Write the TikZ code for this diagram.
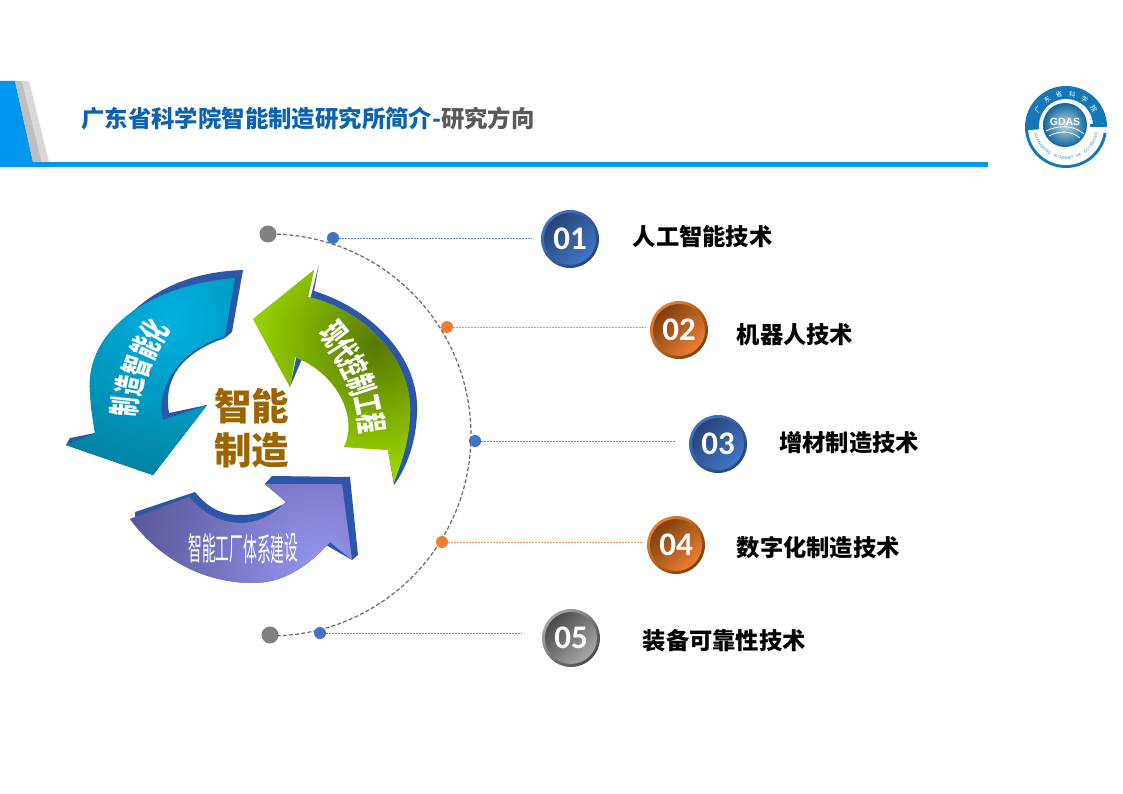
\documentclass[tikz,border=0pt]{standalone}
\usepackage{fontspec}
\newfontfamily\cjk{Noto Sans CJK SC}
\newfontfamily\digitfont{Carlito}
\newfontfamily\logofont{Liberation Sans}
\definecolor{hblue}{HTML}{0096EE}
\definecolor{tblue}{HTML}{0B62B0}
\definecolor{tgray}{HTML}{595959}
\definecolor{gold}{HTML}{9C6500}
\definecolor{extr}{HTML}{2C57A8}
\definecolor{ringb}{HTML}{1478B8}
\definecolor{dotblue}{HTML}{4472C4}
\definecolor{dotorange}{HTML}{ED7D31}
\definecolor{cyA}{HTML}{00B2E2}
\definecolor{cyB}{HTML}{007D9B}
\definecolor{grA}{HTML}{587800}
\definecolor{grB}{HTML}{9AD400}
\definecolor{puA}{HTML}{9696F0}
\definecolor{puB}{HTML}{585496}
\definecolor{bluD}{HTML}{274578}
\definecolor{bluL}{HTML}{4175C4}
\definecolor{oraD}{HTML}{7E3F10}
\definecolor{oraL}{HTML}{EC7F30}
\definecolor{gryD}{HTML}{4A4A4A}
\definecolor{gryL}{HTML}{A8A8A8}
\tikzset{
  x=1pt,y=-1pt,
  itemtext/.style={anchor=west,inner sep=0pt,font=\cjk\bfseries\fontsize{23.3}{25}\selectfont,text=black},
  smalldot/.style={circle,fill=#1,minimum size=12pt,inner sep=0pt},
  bigdot/.style={circle,fill=black!50,minimum size=17pt,inner sep=0pt},
  leader/.style={draw=#1,dash pattern=on 2pt off 1pt,line width=.9pt,draw opacity=.85},
  archar/.style={inner sep=0pt,text=white,font=\cjk\bfseries\fontsize{32}{32}\selectfont},
}
\newcommand{\squeezed}[1]{\scalebox{.6}[1]{#1}}
\newcommand{\ballat}[7]{%
  \shade[top color=#4,bottom color=#5,shading angle=45] (#2,#3) circle (29);
  \node[circle,minimum size=52pt,inner sep=0pt,top color=#6,bottom color=#7,shading angle=45,text=white,font=\digitfont\bfseries\fontsize{33}{33}\selectfont] (b#1) at (#2,#3) {\raisebox{-1pt}{#1}};
}
\newcommand{\cyanpath}{(235,278) .. controls (150,285) and (85,330) .. (90,392) .. controls (91,410) and (93,420) .. (95,433) -- (66,445) -- (153,475) -- (207,405) -- (163,420) .. controls (156,395) and (172,352) .. (225,336) -- cycle}
\newcommand{\greenpath}{(314,270) -- (308,297) .. controls (365,310) and (412,360) .. (410,413) .. controls (409,445) and (400,465) .. (394,483) -- (388,450) -- (344,447) .. controls (358,420) and (340,375) .. (295,357) -- (290,387) -- (253,319) -- cycle}
\newcommand{\purplepath}{(130,519) -- (189,497) .. controls (205,515) and (220,522) .. (240,523) .. controls (260,523) and (275,513) .. (286,502) -- (265,484) -- (342,484) -- (352,560) -- (330,542) .. controls (305,570) and (280,583) .. (253,583) .. controls (205,583) and (160,560) .. (130,519) -- cycle}
\begin{document}
\begin{tikzpicture}
\useasboundingbox (0,0) rectangle (1123,794);
\fill[white] (0,0) rectangle (1123,794);
% header
\fill[hblue] (0,81) -- (15,81) -- (33,162) -- (0,162) -- cycle;
\fill[black!25] (15,81) -- (22,81) -- (42,162) -- (33,162) -- cycle;
\fill[black!15] (22,81) -- (29,81) -- (49,162) -- (42,162) -- cycle;
\fill[hblue] (0,162) rectangle (988,167);
\node[anchor=west,inner sep=0pt,font=\cjk\bfseries\fontsize{23.4}{25}\selectfont,text=tblue] (title) at (81,119) {广东省科学院智能制造研究所简介-\textcolor{tgray}{研究方向}};
% logo
\fill[ringb] (1066,127) circle (41);
\fill[white] plot[domain=-5:175,samples=40] ({1066+38*cos(\x)},{127+38*sin(\x)}) -- cycle;
\fill[white] (1066,126) circle (27);
\fill[ringb] (1090,124) rectangle (1107,127);
\fill[white] (1098,127) rectangle (1108,133);
\shade[inner color=white!70!ringb,outer color=ringb!85!black] (1065,125) circle (22);
\draw[white,line width=.8pt] (1046,131) .. controls (1060,124) and (1075,126) .. (1084,134);
\draw[white,line width=.8pt] (1049,136) .. controls (1060,130) and (1072,131) .. (1080,138);
\node[inner sep=0pt,text=white,font=\logofont\bfseries\fontsize{10.5}{11}\selectfont] (gdas) at (1065,122) {GDAS};
\foreach \c [count=\i] in {广,东,省,科,学,院}{
  \pgfmathsetmacro{\a}{-148+(\i-1)*23}
  \node[inner sep=0pt,text=white,font=\cjk\fontsize{6.5}{7}\selectfont,rotate={-(\a+90)}] (lg\i) at ({1066+33*cos(\a)},{127+33*sin(\a)}) {\c};
}
\foreach \c [count=\i] in {G,U,A,N,G,D,O,N,G,{ },A,C,A,D,E,M,Y,{ },O,F,{ },S,C,I,E,N,C,E,S}{
  \pgfmathsetmacro{\a}{165-(\i-1)*5.4}
  \node[inner sep=0pt,text=ringb,font=\logofont\fontsize{3.8}{4}\selectfont,rotate={90-\a}] (ls\i) at ({1066+31*cos(\a)},{127+31*sin(\a)}) {\c};
}
% cyan arrow
\fill[extr] (243,270) .. controls (190,272) and (140,290) .. (105,345) -- (95,433) -- (70,438) -- (66,445) -- (153,475) -- (207,405) -- (169,413) .. controls (164,385) and (175,355) .. (225,338) -- (232,332) -- cycle;
\fill[cyB] \cyanpath;
\begin{scope}
\clip \cyanpath;
\shade[inner color=cyA,outer color=cyB] (170,320) circle (175);
\end{scope}
% green arrow
\fill[extr] (319,264) -- (314,291) .. controls (375,310) and (420,360) .. (417,413) .. controls (416,445) and (405,470) .. (394,485) -- (388,450) -- (368,430) -- (350,385) -- (320,367) -- (302,359) -- (290,387) -- (300,340) -- cycle;
\fill[grB] \greenpath;
\begin{scope}
\clip \greenpath;
\shade[inner color=grA,outer color=grB] (375,345) circle (125);
\end{scope}
% purple arrow
\fill[extr] (135,512) -- (195,492) .. controls (208,508) and (222,515) .. (240,515) .. controls (258,515) and (275,510) .. (287,502) -- (265,484) -- (272,476) -- (350,477) -- (358,555) -- (352,560) -- (300,530) -- (135,525) -- cycle;
\fill[puB] \purplepath;
\begin{scope}
\clip \purplepath;
\shade[inner color=puA,outer color=puB] (320,565) circle (200);
\end{scope}
% arrow texts
\foreach \c/\px/\py/\r [count=\i] in {制/125/407/84,造/130/386/78,智/137/367/72,能/145/348/66,化/155/331/60}{
  \node[archar,rotate=\r] (la\i) at (\px,\py) {\squeezed{\c}};
}
\foreach \c/\px/\py/\r [count=\i] in {现/333/334/-52,代/344/350/-58,控/354/367/-64,制/362/385/-72,工/368/404/-78,程/372/423/-82}{
  \node[archar,rotate=\r] (ra\i) at (\px,\py) {\squeezed{\c}};
}
\foreach \c/\px/\py [count=\i] in {智/195/548,能/209/548,工/222.5/549,厂/236.5/549,体/250/549,系/264/549,建/277.5/549,设/291/548}{
  \node[inner sep=0pt,text=white,font=\cjk\fontsize{32}{32}\selectfont] (pa\i) at (\px,\py) {\scalebox{.43}[1]{\c}};
}
% centre text
\node[inner sep=0pt,text=gold,font=\cjk\bfseries\fontsize{37.5}{38}\selectfont] (c1) at (251.5,406) {智能};
\node[inner sep=0pt,text=gold,font=\cjk\bfseries\fontsize{37.5}{38}\selectfont] (c2) at (251.5,450) {制造};
% dashed arc
\node[bigdot] (g1) at (268,234) {};
\node[bigdot] (g2) at (270,635) {};
\draw[black!58,dash pattern=on 4pt off 2.2pt,line width=1.2pt] plot[domain=-88:88,samples=60] ({270+201*cos(\x)},{435+201*sin(\x)});
% dots
\node[smalldot=dotblue] (d1) at (333,238) {};
\node[smalldot=dotorange] (d2) at (447,327) {};
\node[smalldot=dotblue] (d3) at (475,441) {};
\node[smalldot=dotorange] (d4) at (442,542) {};
\node[smalldot=dotblue] (d5) at (320,633) {};
% balls
\ballat{01}{570}{239}{bluL}{bluD}{bluD}{bluL}
\ballat{02}{679}{330}{oraL}{oraD}{oraD}{oraL}
\ballat{03}{718}{444}{bluL}{bluD}{bluD}{bluL}
\ballat{04}{676}{545}{oraL}{oraD}{oraD}{oraL}
\ballat{05}{571}{638}{gryL}{gryD}{gryD}{gryL}
% leaders
\draw[leader=dotblue,shorten >=12pt] (d1.center) -- (d1.center -| b01.west);
\draw[leader=dotorange,shorten >=7pt] (d2.center) -- (d2.center -| b02.west);
\draw[leader=dotblue,shorten >=17pt] (d3.center) -- (d3.center -| b03.west);
\draw[leader=dotorange,shorten >=7pt] (d4.center) -- (d4.center -| b04.west);
\draw[leader=dotblue,shorten >=23pt] (d5.center) -- (d5.center -| b05.west);
% items
\node[itemtext] (t1) at (632.5,237) {人工智能技术};
\node[itemtext] (t2) at (736.5,335) {机器人技术};
\node[itemtext] (t3) at (779,443) {增材制造技术};
\node[itemtext] (t4) at (736.5,548) {数字化制造技术};
\node[itemtext] (t5) at (642.5,641) {装备可靠性技术};
\end{tikzpicture}
\end{document}
